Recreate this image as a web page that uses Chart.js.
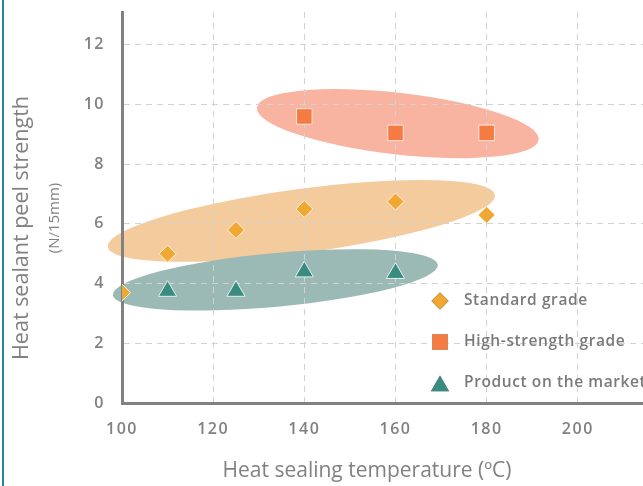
<!DOCTYPE html>
<html>
<head>
<meta charset="utf-8">
<script src="https://cdn.jsdelivr.net/npm/chart.js@4/dist/chart.umd.min.js"></script>
<style>
  html, body { margin: 0; padding: 0; background: #fff; }
  #wrap { position: relative; width: 643px; height: 486px; }
  #edge { position: absolute; left: 2px; top: 0; width: 2px; height: 486px; background: #2a82a0; }
</style>
</head>
<body>
<div id="wrap">
  <div id="edge"></div>
  <canvas id="chart" width="643" height="486"></canvas>
</div>
<script>
// heat sealing temperature (C) vs peel strength (N/15mm)
const standardTemp = [100, 110, 125, 140, 160, 180];
const standardPeel = [3.7, 5.0, 5.8, 6.5, 6.75, 6.3];

const highTemp = [140, 160, 180];
const highPeel = [9.6, 9.05, 9.05];

const marketTemp = [110, 125, 140, 160];
const marketPeel = [3.75, 3.75, 4.4, 4.35];

const seriesNames = ['Standard grade', 'High-strength grade', 'Product on the market'];

// shaded zones behind each group: left end, right end (data units), half thickness in N/15mm
const zoneLeft = [[129.6, 9.9], [96.9, 5.23], [98.0, 3.62]];
const zoneRight = [[191.4, 8.82], [181.8, 6.97], [169.3, 4.63]];
const zoneHalf = [1.03, 1.07, 0.9];
const zoneColors = ['#f8b4a0', '#f4cb9d', '#9bbab5'];

const gray = '#818181';

const toPoints = (xs, ys) => xs.map((x, i) => ({ x: x, y: ys[i] }));

const zones = {
  id: 'zones',
  beforeDraw(chart) {
    const { ctx, scales: { x, y } } = chart;
    ctx.letterSpacing = '1.5px';
    ctx.save();
    zoneLeft.forEach((l, i) => {
      const r = zoneRight[i];
      const x1 = x.getPixelForValue(l[0]), y1 = y.getPixelForValue(l[1]);
      const x2 = x.getPixelForValue(r[0]), y2 = y.getPixelForValue(r[1]);
      const a = Math.hypot(x2 - x1, y2 - y1) / 2;
      const b = y.getPixelForValue(0) - y.getPixelForValue(zoneHalf[i]);
      ctx.beginPath();
      ctx.ellipse((x1 + x2) / 2, (y1 + y2) / 2, a, b, Math.atan2(y2 - y1, x2 - x1), 0, Math.PI * 2);
      ctx.fillStyle = zoneColors[i];
      ctx.fill();
    });
    ctx.restore();
  }
};

const sideText = {
  id: 'sideText',
  afterDraw(chart) {
    const ctx = chart.ctx;
    ctx.save();
    ctx.letterSpacing = '0px';
    ctx.fillStyle = gray;
    ctx.textAlign = 'center';
    ctx.textBaseline = 'middle';
    ctx.font = '500 21px "Open Sans"';
    ctx.fillText('Heat sealing temperature (ºC)', 367, 471);
    ctx.translate(22, 228);
    ctx.rotate(-Math.PI / 2);
    ctx.font = '500 21.5px "Open Sans"';
    ctx.fillText('Heat sealant peel strength', 0, 0);
    ctx.font = '400 15px "Open Sans"';
    ctx.fillText('(N/15mm)', 10, 33);
    ctx.restore();

    // legend
    ctx.save();
    ctx.letterSpacing = '0.6px';
    chart.data.datasets.forEach((ds, i) => {
      const ly = 301 + i * 41;
      Chart.helpers.drawPoint(ctx, {
        pointStyle: ds.pointStyle, radius: ds.pointRadius, rotation: 0, borderWidth: 0
      }, 440, ds.pointStyle === 'triangle' ? ly + 3 : ly);
      ctx.fillStyle = ds.backgroundColor;
      ctx.fill();
      ctx.fillStyle = '#7a7a7a';
      ctx.font = '600 15.5px "Open Sans"';
      ctx.textAlign = 'left';
      ctx.textBaseline = 'middle';
      ctx.fillText(ds.label, 464, ly);
    });
    ctx.restore();
  }
};

new Chart(document.getElementById('chart'), {
  type: 'scatter',
  data: {
    datasets: [
      {
        label: seriesNames[0],
        data: toPoints(standardTemp, standardPeel),
        pointStyle: 'rectRot',
        pointRadius: 8.5,
        backgroundColor: '#f0a832',
        borderColor: '#fff3e0',
        borderWidth: 1
      },
      {
        label: seriesNames[1],
        data: toPoints(highTemp, highPeel),
        pointStyle: 'rect',
        pointRadius: 11,
        backgroundColor: '#f47c42',
        borderColor: '#fde6dc',
        borderWidth: 1
      },
      {
        label: seriesNames[2],
        data: toPoints(marketTemp, marketPeel),
        pointStyle: 'triangle',
        pointRadius: 10.5,
        backgroundColor: '#3a8b80',
        borderColor: '#e6f2ef',
        borderWidth: 1
      }
    ]
  },
  options: {
    responsive: false,
    animation: false,
    layout: { autoPadding: false, padding: { left: 0, right: 0, top: 12, bottom: 0 } },
    plugins: { legend: { display: false }, tooltip: { enabled: false } },
    scales: {
      x: {
        min: 100,
        max: 214.3,
        afterFit(s) { s.height = 83; s.paddingLeft = 0; s.paddingRight = 0; },
        ticks: {
          stepSize: 20,
          includeBounds: false,
          padding: 17,
          color: gray,
          font: { family: '"Open Sans"', size: 16, weight: '600' }
        },
        grid: { color: '#d2d2d2', lineWidth: 1, drawTicks: false },
        border: { color: gray, width: 3, dash: [6, 5] }
      },
      y: {
        min: 0,
        max: 13.1,
        afterFit(s) { s.width = 122; s.paddingTop = 0; s.paddingBottom = 0; },
        ticks: {
          stepSize: 2,
          includeBounds: false,
          padding: 17,
          color: gray,
          font: { family: '"Open Sans"', size: 16, weight: '600' }
        },
        grid: { color: '#d2d2d2', lineWidth: 1, drawTicks: false },
        border: { color: gray, width: 3, dash: [6, 5] }
      }
    }
  },
  plugins: [zones, sideText]
});
</script>
</body>
</html>
